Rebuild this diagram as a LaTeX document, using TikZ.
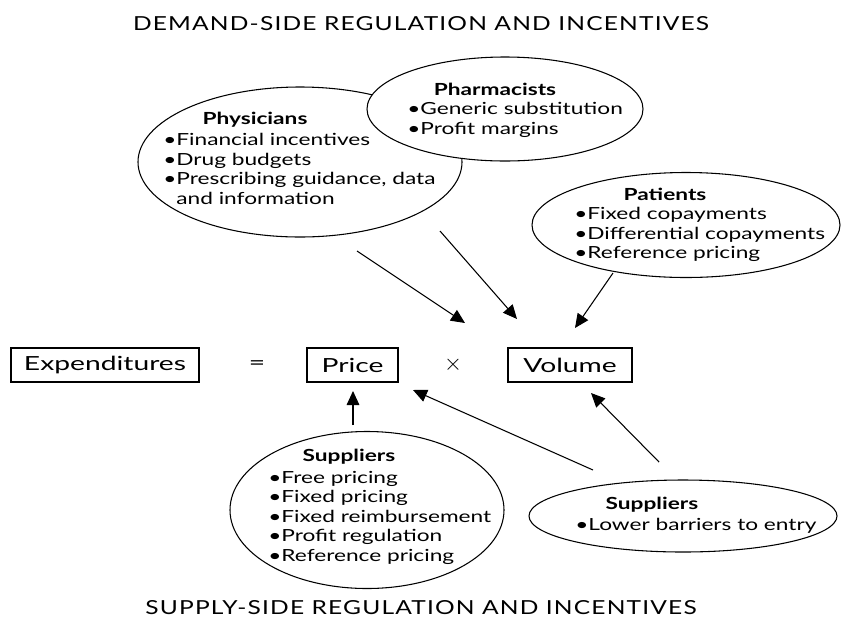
\documentclass[tikz,border=0pt]{standalone}
\usepackage{fontspec}
\setmainfont[FakeStretch=1.36]{Lato}
\newfontfamily\titlefont[FakeStretch=1.27,LetterSpace=6]{Lato}
\newfontfamily\boxfont[FakeStretch=1.45]{Lato}
\usetikzlibrary{arrows.meta,shapes.geometric}
\newdimen\pxu
\pxu=0.75pt
\begin{document}
\begin{tikzpicture}[x=0.75pt,y=-0.75pt,
  oval/.style={draw,ellipse,line width=0.8pt,fill=white,inner sep=0pt},
  head/.style={font=\fontsize{12.5}{14.6}\selectfont\bfseries,inner sep=0pt},
  blist/.style={font=\fontsize{12.5}{14.6}\selectfont,inner sep=0pt,anchor=north west},
  ebox/.style={draw,line width=0.8pt,font=\boxfont\fontsize{14.6}{17}\selectfont,inner sep=0pt},
  sym/.style={font=\boxfont\fontsize{14.6}{17}\selectfont,inner sep=0pt},
  arr/.style={line width=0.8pt,-{Triangle[length=10.5pt,width=9.5pt]}},
  ttl/.style={font=\titlefont\fontsize{14.5}{17}\selectfont,inner sep=0pt}
]
\useasboundingbox (0,0) rectangle (842,626);
\fill[white] (0,0) rectangle (842,626);

% titles
\node[ttl] (top) at (421,24) {DEMAND-SIDE REGULATION AND INCENTIVES};
\node[ttl] (bot) at (421,608) {SUPPLY-SIDE REGULATION AND INCENTIVES};

% physicians
\node[oval,minimum width=324\pxu,minimum height=150\pxu] (phy) at (300,162) {};
\node[head] (phyh) at (255,120) {Physicians};
\node[blist] (phyl) at (163,132) {\begin{tabular}{@{}l@{}l@{}}\textbullet\hspace{1pt}&Financial incentives\\ \textbullet\hspace{1pt}&Drug budgets\\ \textbullet\hspace{1pt}&Prescribing guidance, data\\ &and information\end{tabular}};

% pharmacists
\node[oval,minimum width=276\pxu,minimum height=104\pxu] (pha) at (505,109) {};
\node[head] (phah) at (495,89) {Pharmacists};
\node[blist] (phal) at (407,101) {\begin{tabular}{@{}l@{}l@{}}\textbullet\hspace{1pt}&Generic substitution\\ \textbullet\hspace{1pt}&Profit margins\end{tabular}};

% patients
\node[oval,minimum width=308\pxu,minimum height=105\pxu] (pat) at (686,225) {};
\node[head] (path) at (665,194) {Patients};
\node[blist] (patl) at (574,206) {\begin{tabular}{@{}l@{}l@{}}\textbullet\hspace{1pt}&Fixed copayments\\ \textbullet\hspace{1pt}&Differential copayments\\ \textbullet\hspace{1pt}&Reference pricing\end{tabular}};

% equation
\node[ebox,minimum width=188\pxu,minimum height=34\pxu] (exp) at (105,365) {Expenditures};
\node[sym] (eq) at (257,365) {=};
\node[ebox,minimum width=91\pxu,minimum height=34\pxu] (pri) at (352.5,365) {Price};
\node[sym,font=\fontsize{17}{19}\selectfont] (tim) at (453,365) {$\times$};
\node[ebox,minimum width=124\pxu,minimum height=34\pxu] (vol) at (570,365) {Volume};

% suppliers left
\node[oval,minimum width=274\pxu,minimum height=157\pxu] (sup) at (367,510) {};
\node[head] (suph) at (349,457) {Suppliers};
\node[blist] (supl) at (268,469.5) {\begin{tabular}{@{}l@{}l@{}}\textbullet\hspace{1pt}&Free pricing\\ \textbullet\hspace{1pt}&Fixed pricing\\ \textbullet\hspace{1pt}&Fixed reimbursement\\ \textbullet\hspace{1pt}&Profit regulation\\ \textbullet\hspace{1pt}&Reference pricing\end{tabular}};

% suppliers right
\node[oval,minimum width=308\pxu,minimum height=72\pxu] (sur) at (683,516) {};
\node[head] (surh) at (652,505) {Suppliers};
\node[blist] (surl) at (575,517) {\begin{tabular}{@{}l@{}l@{}}\textbullet\hspace{1pt}&Lower barriers to entry\end{tabular}};

% arrow end points
\coordinate (a1s) at (357,251);
\coordinate (a1e) at (465,323);
\coordinate (a2s) at (440,231);
\coordinate (a2e) at (517,319);
\coordinate (a3s) at (613,273);
\coordinate (a3e) at (575,328);
\coordinate (a4s) at (353,425);
\coordinate (a4e) at (353,391);
\coordinate (a5s) at (593,470);
\coordinate (a5e) at (413,390);
\coordinate (a6s) at (659,462);
\coordinate (a6e) at (591,393);

\draw[arr] (a1s) -- (a1e);
\draw[arr] (a2s) -- (a2e);
\draw[arr] (a3s) -- (a3e);
\draw[arr] (a4s) -- (a4e);
\draw[arr] (a5s) -- (a5e);
\draw[arr] (a6s) -- (a6e);
\end{tikzpicture}
\end{document}
